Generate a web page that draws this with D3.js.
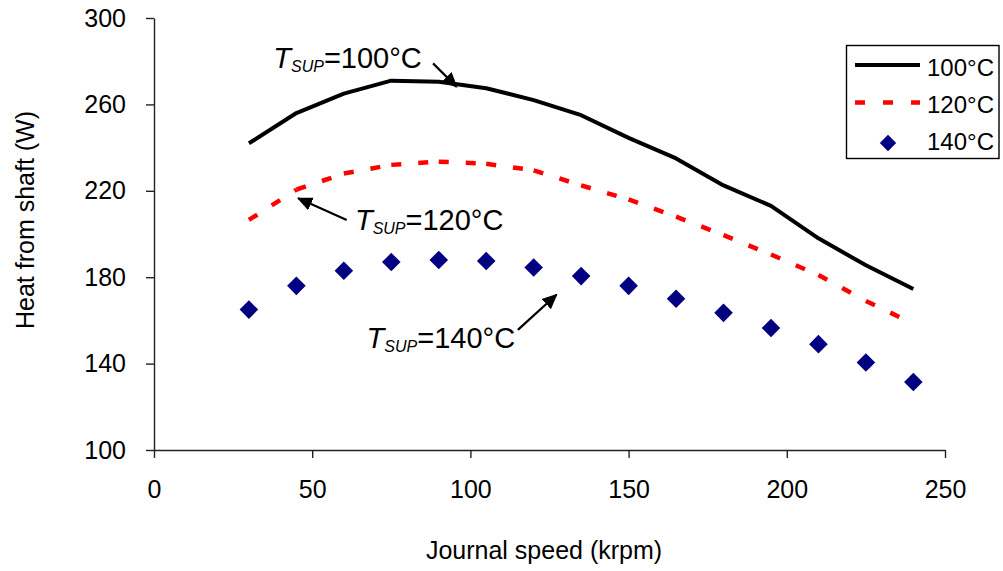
<!DOCTYPE html>
<html>
<head>
<meta charset="utf-8">
<script src="https://cdn.jsdelivr.net/npm/d3@7"></script>
<style>
  html, body { margin: 0; padding: 0; background: #fff; }
  svg { display: block; font-family: "Liberation Sans", Arial, sans-serif; }
</style>
</head>
<body>
<svg id="chart" width="1003" height="571"></svg>
<script>
// Journal speed (krpm)
const speeds = [30, 45, 60, 75, 90, 105, 120, 135, 150, 165, 180, 195, 210, 225, 240];
// Heat from shaft (W) at each supply temperature
const heat100 = [242, 256, 265, 271, 270.5, 267.5, 262, 255, 244.5, 235, 222.5, 213, 198, 185.5, 174.5];
const heat120 = [206.5, 220.5, 228, 232, 233.5, 232.5, 229.5, 222.5, 216, 208, 199.5, 190.5, 181, 169, 158.5];
const heat140 = [165, 176, 183, 187, 188, 187.5, 184.5, 180.5, 176, 170, 163.5, 156.5, 149, 140.5, 131.5];

const xTicks = [0, 50, 100, 150, 200, 250];
const yTicks = [100, 140, 180, 220, 260, 300];
const legendLabels = ["100°C", "120°C", "140°C"];
const supplyTemps = ["100°C", "120°C", "140°C"];

// Callout positions in data units: label anchor, arrow tail, arrow tip
const callouts = [
  { temp: supplyTemps[0], tx: 37.7, ty: 277, x0: 88.2, y0: 279, x1: 95.6, y1: 268.2 },
  { temp: supplyTemps[1], tx: 63.5, ty: 202, x0: 60.9, y0: 206.5, x1: 45.6, y1: 216.5 },
  { temp: supplyTemps[2], tx: 67.2, ty: 147, x0: 115, y0: 155.6, x1: 127.2, y1: 171.9 }
];

const svg = d3.select("#chart");
const x = d3.scaleLinear().domain([0, 250]).range([154, 945]);
const y = d3.scaleLinear().domain([100, 300]).range([450, 18]);

// Axes
const axisColor = "#222";
const gx = svg.append("g")
  .attr("transform", `translate(0,${y(100)})`)
  .call(d3.axisBottom(x).tickValues(xTicks).tickSize(8).tickSizeOuter(0).tickPadding(22));
const gy = svg.append("g")
  .attr("transform", `translate(${x(0)},0)`)
  .call(d3.axisLeft(y).tickValues(yTicks).tickSize(8).tickSizeOuter(0).tickPadding(20));
[gx, gy].forEach(g => {
  g.select(".domain").attr("stroke", axisColor).attr("stroke-width", 1.4);
  g.selectAll(".tick line").attr("stroke", axisColor).attr("stroke-width", 1.4);
  g.selectAll(".tick text").attr("fill", "#000").style("font-size", "25px")
    .style("font-family", "'Liberation Sans', Arial, sans-serif");
});

// Axis titles
svg.append("text")
  .attr("x", 544).attr("y", 559)
  .attr("text-anchor", "middle")
  .style("font-size", "25px")
  .text("Journal speed (krpm)");
svg.append("text")
  .attr("transform", "translate(34,220) rotate(-90)")
  .attr("text-anchor", "middle")
  .style("font-size", "25px")
  .text("Heat from shaft (W)");

const pts = vals => speeds.map((s, i) => [x(s), y(vals[i])]);

// 100 °C: solid black line
svg.append("path")
  .attr("d", d3.line()(pts(heat100)))
  .attr("fill", "none")
  .attr("stroke", "#000")
  .attr("stroke-width", 4)
  .attr("stroke-linejoin", "round");

// 120 °C: red dashes, the pattern restarting on each segment
const p120 = pts(heat120);
svg.append("g").selectAll("path")
  .data(d3.pairs(p120))
  .join("path")
  .attr("d", d => d3.line()(d))
  .attr("fill", "none")
  .attr("stroke", "#ff0000")
  .attr("stroke-width", 4.5)
  .attr("stroke-dasharray", "10,17");

// 140 °C: navy diamonds
const diamond = d3.symbol().type(d3.symbolDiamond2).size(220)();
svg.append("g").selectAll("path")
  .data(pts(heat140))
  .join("path")
  .attr("transform", d => `translate(${d[0]},${d[1]})`)
  .attr("d", diamond)
  .attr("fill", "#000080");

// Callouts
const defs = svg.append("defs");
defs.append("marker")
  .attr("id", "arrow")
  .attr("viewBox", "0 0 10 10")
  .attr("refX", 9).attr("refY", 5)
  .attr("markerWidth", 7).attr("markerHeight", 7)
  .attr("markerUnits", "strokeWidth")
  .attr("orient", "auto")
  .append("path")
  .attr("d", "M0,0.5 L10,5 L0,9.5 Z")
  .attr("fill", "#000");

callouts.forEach(c => {
  svg.append("line")
    .attr("x1", x(c.x0)).attr("y1", y(c.y0))
    .attr("x2", x(c.x1)).attr("y2", y(c.y1))
    .attr("stroke", "#000")
    .attr("stroke-width", 2.2)
    .attr("marker-end", "url(#arrow)");
  const t = svg.append("text")
    .attr("x", x(c.tx)).attr("y", y(c.ty))
    .style("font-size", "29px");
  t.append("tspan").style("font-style", "italic").text("T");
  t.append("tspan").style("font-style", "italic").style("font-size", "16px")
    .attr("dy", 4).text("SUP");
  t.append("tspan").attr("dy", -4).text("=" + c.temp);
});

// Legend
const lg = svg.append("g");
lg.append("rect")
  .attr("x", 846.5).attr("y", 45.5).attr("width", 152.5).attr("height", 113)
  .attr("fill", "#fff").attr("stroke", "#000").attr("stroke-width", 1.4);
const rows = [65, 102.5, 143];
lg.append("line")
  .attr("x1", 855).attr("x2", 920).attr("y1", rows[0]).attr("y2", rows[0])
  .attr("stroke", "#000").attr("stroke-width", 4);
lg.append("line")
  .attr("x1", 855).attr("x2", 920).attr("y1", rows[1]).attr("y2", rows[1])
  .attr("stroke", "#ff0000").attr("stroke-width", 4.5).attr("stroke-dasharray", "10,18");
lg.append("path")
  .attr("transform", `translate(888,${rows[2]})`)
  .attr("d", d3.symbol().type(d3.symbolDiamond2).size(170)())
  .attr("fill", "#000080");
legendLabels.forEach((l, i) => {
  lg.append("text")
    .attr("x", 927).attr("y", [76, 113, 150][i])
    .style("font-size", "24px")
    .text(l);
});
</script>
</body>
</html>
